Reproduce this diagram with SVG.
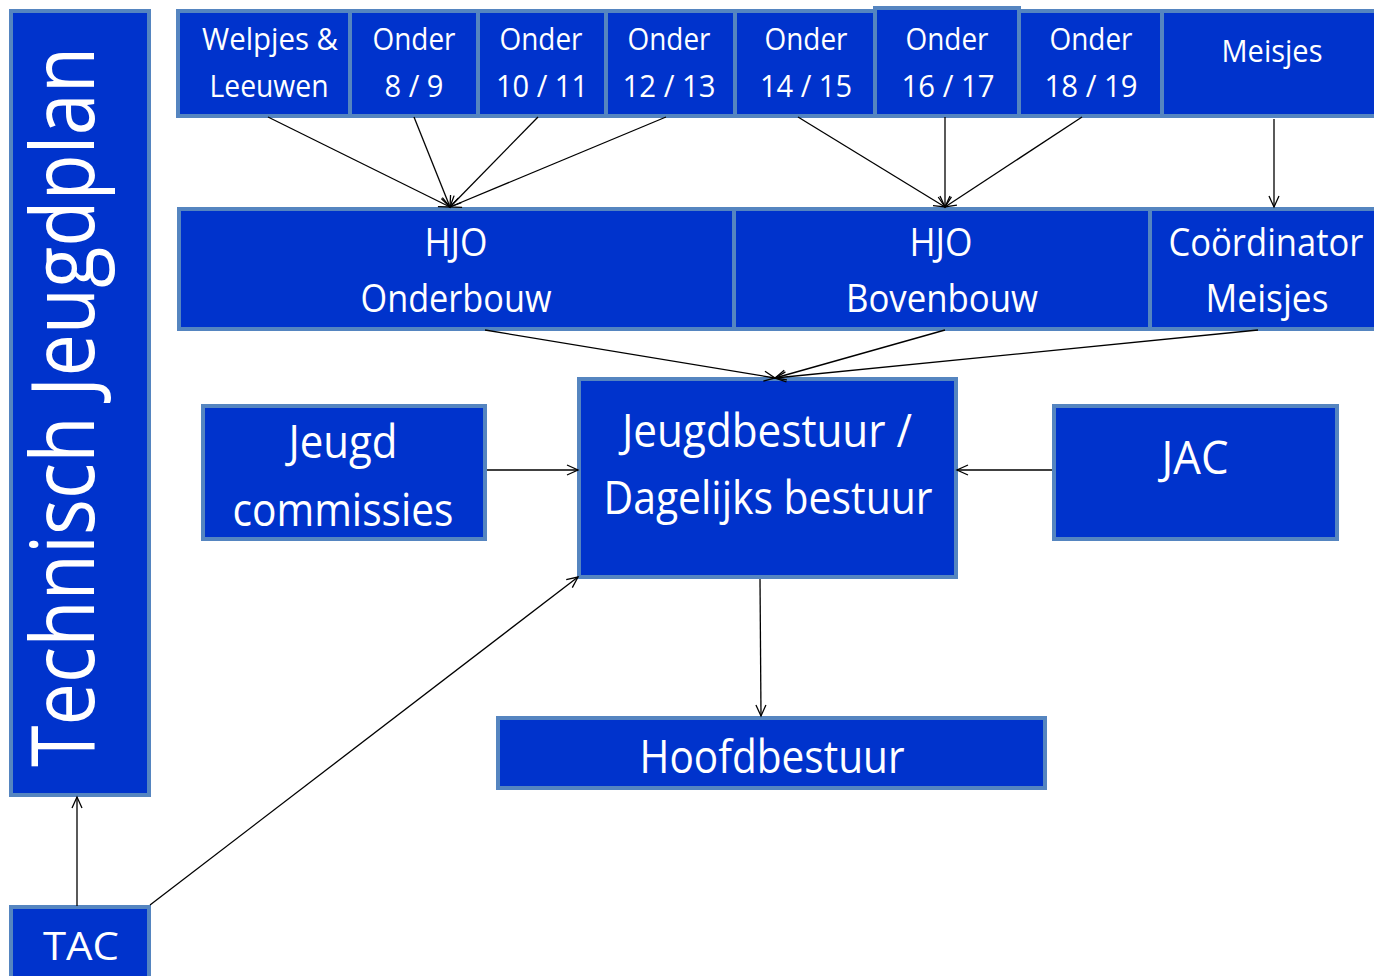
<svg xmlns="http://www.w3.org/2000/svg" width="1374" height="976" viewBox="0 0 1374 976">
<style>
.box{fill:#0033CC;stroke:#5585C0;stroke-width:4}
.t{font-family:"Open Sans","Noto Sans",sans-serif;fill:#FFFFFF;text-anchor:middle}
.s{font-size:31px}
.m{font-size:38px}
.l{font-size:45px}
.c{stroke:#000;stroke-width:1.3;fill:none;marker-end:url(#arr)}
</style>
<defs>
<marker id="arr" markerUnits="userSpaceOnUse" markerWidth="14" markerHeight="14" refX="12" refY="6" orient="auto" viewBox="0 0 14 12">
<path d="M1,1 L12,6 L1,11" fill="none" stroke="#000" stroke-width="1.3"/>
</marker>
</defs>
<rect width="1374" height="976" fill="#FFFFFF"/>
<g id="technisch-jeugdplan">
<rect class="box" x="11" y="11" width="138" height="784"/>
<text class="t" font-size="88" transform="rotate(-90 94 407)" x="94" y="407" textLength="720" lengthAdjust="spacingAndGlyphs">Technisch Jeugdplan</text>
</g>
<g id="tac">
<rect class="box" x="11" y="907" width="138" height="75"/>
<text class="t m" x="81" y="960" textLength="76" lengthAdjust="spacingAndGlyphs">TAC</text>
</g>
<g id="welpjes">
<rect class="box" x="178" y="11" width="172" height="105"/>
<text class="t s" x="270" y="50" textLength="136" lengthAdjust="spacingAndGlyphs">Welpjes &amp;</text>
<text class="t s" x="269" y="97" textLength="119" lengthAdjust="spacingAndGlyphs">Leeuwen</text>
</g>
<g id="onder-8-9">
<rect class="box" x="350" y="11" width="128" height="105"/>
<text class="t s" x="414" y="50" textLength="83" lengthAdjust="spacingAndGlyphs">Onder</text>
<text class="t s" x="414" y="97" textLength="59" lengthAdjust="spacingAndGlyphs">8 / 9</text>
</g>
<g id="onder-10-11">
<rect class="box" x="478" y="11" width="128" height="105"/>
<text class="t s" x="541" y="50" textLength="83" lengthAdjust="spacingAndGlyphs">Onder</text>
<text class="t s" x="542" y="97" textLength="92" lengthAdjust="spacingAndGlyphs">10 / 11</text>
</g>
<g id="onder-12-13">
<rect class="box" x="606" y="11" width="129" height="105"/>
<text class="t s" x="669" y="50" textLength="83" lengthAdjust="spacingAndGlyphs">Onder</text>
<text class="t s" x="669" y="97" textLength="93" lengthAdjust="spacingAndGlyphs">12 / 13</text>
</g>
<g id="onder-14-15">
<rect class="box" x="735" y="11" width="140" height="105"/>
<text class="t s" x="806" y="50" textLength="83" lengthAdjust="spacingAndGlyphs">Onder</text>
<text class="t s" x="806" y="97" textLength="92" lengthAdjust="spacingAndGlyphs">14 / 15</text>
</g>
<g id="onder-16-17">
<rect class="box" x="875" y="8" width="144" height="108"/>
<text class="t s" x="947" y="50" textLength="83" lengthAdjust="spacingAndGlyphs">Onder</text>
<text class="t s" x="948" y="97" textLength="93" lengthAdjust="spacingAndGlyphs">16 / 17</text>
</g>
<g id="onder-18-19">
<rect class="box" x="1019" y="11" width="143" height="105"/>
<text class="t s" x="1091" y="50" textLength="83" lengthAdjust="spacingAndGlyphs">Onder</text>
<text class="t s" x="1091" y="97" textLength="93" lengthAdjust="spacingAndGlyphs">18 / 19</text>
</g>
<g id="meisjes">
<rect class="box" x="1162" y="11" width="220" height="105"/>
<text class="t s" x="1272" y="62" textLength="101" lengthAdjust="spacingAndGlyphs">Meisjes</text>
</g>
<g id="hjo-onderbouw">
<rect class="box" x="179" y="209" width="555" height="120"/>
<text class="t m" x="456" y="256" textLength="63" lengthAdjust="spacingAndGlyphs">HJO</text>
<text class="t m" x="456" y="312" textLength="191" lengthAdjust="spacingAndGlyphs">Onderbouw</text>
</g>
<g id="hjo-bovenbouw">
<rect class="box" x="734" y="209" width="416" height="120"/>
<text class="t m" x="941" y="256" textLength="63" lengthAdjust="spacingAndGlyphs">HJO</text>
<text class="t m" x="942" y="312" textLength="192" lengthAdjust="spacingAndGlyphs">Bovenbouw</text>
</g>
<g id="coordinator-meisjes">
<rect class="box" x="1150" y="209" width="232" height="120"/>
<text class="t m" x="1266" y="256" textLength="195" lengthAdjust="spacingAndGlyphs">Coördinator</text>
<text class="t m" x="1267" y="312" textLength="123" lengthAdjust="spacingAndGlyphs">Meisjes</text>
</g>
<g id="jeugdbestuur">
<rect class="box" x="579" y="379" width="377" height="198"/>
<text class="t l" x="767" y="447" textLength="290" lengthAdjust="spacingAndGlyphs">Jeugdbestuur /</text>
<text class="t l" x="768" y="514" textLength="329" lengthAdjust="spacingAndGlyphs">Dagelijks bestuur</text>
</g>
<g id="jeugd-commissies">
<rect class="box" x="203" y="406" width="282" height="133"/>
<text class="t l" x="343" y="458" textLength="109" lengthAdjust="spacingAndGlyphs">Jeugd</text>
<text class="t l" x="343" y="526" textLength="221" lengthAdjust="spacingAndGlyphs">commissies</text>
</g>
<g id="jac">
<rect class="box" x="1054" y="406" width="283" height="133"/>
<text class="t l" x="1195" y="474" textLength="67" lengthAdjust="spacingAndGlyphs">JAC</text>
</g>
<g id="hoofdbestuur">
<rect class="box" x="498" y="718" width="547" height="70"/>
<text class="t l" x="772" y="773" textLength="265" lengthAdjust="spacingAndGlyphs">Hoofdbestuur</text>
</g>
<g id="connectors">
<line class="c" x1="268" y1="117" x2="450" y2="207"/>
<line class="c" x1="414" y1="117" x2="450" y2="207"/>
<line class="c" x1="538" y1="117" x2="450" y2="207"/>
<line class="c" x1="666" y1="117" x2="450" y2="207"/>
<line class="c" x1="798" y1="117" x2="945" y2="207"/>
<line class="c" x1="945" y1="117" x2="945" y2="207"/>
<line class="c" x1="1082" y1="117" x2="945" y2="207"/>
<line class="c" x1="1274" y1="119" x2="1274" y2="207"/>
<line class="c" x1="485" y1="330" x2="775" y2="378"/>
<line class="c" x1="945" y1="330" x2="775" y2="378"/>
<line class="c" x1="1258" y1="330" x2="775" y2="378"/>
<line class="c" x1="487" y1="470" x2="578" y2="470"/>
<line class="c" x1="1052" y1="470" x2="957" y2="470"/>
<line class="c" x1="760" y1="579" x2="761" y2="716"/>
<line class="c" x1="77" y1="906" x2="77" y2="797"/>
<line class="c" x1="150" y1="905" x2="578" y2="577"/>
</g>
</svg>
